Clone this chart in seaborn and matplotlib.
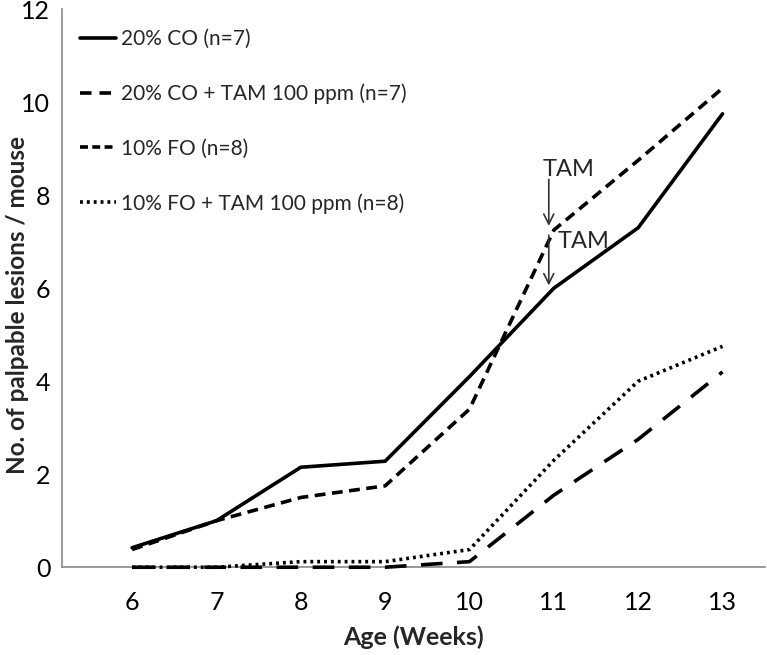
import matplotlib
matplotlib.use("Agg")
import matplotlib.pyplot as plt
from matplotlib.lines import Line2D
import seaborn as sns
import pandas as pd

weeks = [6, 7, 8, 9, 10, 11, 12, 13]
co20 = [0.42, 1.0, 2.15, 2.28, 4.1, 6.0, 7.3, 9.75]
co20_tam = [0.0, 0.0, 0.0, 0.0, 0.12, 1.55, 2.75, 4.2]
fo10 = [0.38, 1.0, 1.5, 1.75, 3.4, 7.25, 8.75, 10.3]
fo10_tam = [0.0, 0.0, 0.12, 0.12, 0.38, 2.3, 4.0, 4.75]
labels = ["20% CO (n=7)", "20% CO + TAM 100 ppm (n=7)", "10% FO (n=8)", "10% FO + TAM 100 ppm (n=8)"]
yticks = [0, 2, 4, 6, 8, 10, 12]

sns.set_theme(style="white")
plt.rcParams['font.family'] = ['Lato', 'DejaVu Sans']

fig = plt.figure(figsize=(7.67, 6.55), dpi=100)
ax = fig.add_axes([0.081, 0.134, 0.916, 0.852])

styles = [
    dict(linestyle='-'),
    dict(dashes=(6, 4)),
    dict(dashes=(3, 1.8)),
    dict(dashes=(0.8, 1.1)),
]
leg_dashes = [None, (3.2, 2.2), (2.2, 1.2), (0.8, 1.1)]
series = [co20, co20_tam, fo10, fo10_tam]
for vals, lab, st in zip(series, labels, styles):
    df = pd.DataFrame({"week": weeks, "value": vals})
    sns.lineplot(data=df, x="week", y="value", ax=ax, color="black",
                 linewidth=2.6, label=lab, **st)
for ln in ax.get_lines():
    ln.set_clip_on(False)

ax.set_xlim(5.17, 13.5)
ax.set_ylim(0, 12)
ax.set_xticks(weeks)
ax.set_yticks(yticks)
ax.tick_params(axis='both', labelsize=18, colors='black', length=5, width=1, direction='out',
               color='#888888')
ax.tick_params(axis='x', pad=12)
for s in ['top', 'right']:
    ax.spines[s].set_visible(False)
for s in ['left', 'bottom']:
    ax.spines[s].set_color('#888888')
    ax.spines[s].set_linewidth(1.2)
    ax.spines[s].set_zorder(0)

ax.set_xlabel("Age (Weeks)", fontsize=18, fontweight='bold', labelpad=8)
ax.set_ylabel("No. of palpable lesions / mouse", fontsize=17.5, fontweight='bold')
ax.yaxis.set_label_coords(-0.047, 0.47)

# TAM annotations
ax.annotate("", xy=(10.94, 7.28), xytext=(10.94, 8.4),
            arrowprops=dict(arrowstyle='->', color='#333333', lw=1.2, mutation_scale=18))
ax.text(10.87, 8.55, "TAM", fontsize=17, ha='left', va='center')
ax.annotate("", xy=(10.94, 6.0), xytext=(10.94, 7.2),
            arrowprops=dict(arrowstyle='->', color='#333333', lw=1.2, mutation_scale=18))
ax.text(11.05, 7.0, "TAM", fontsize=17, ha='left', va='center')

handles = []
for d in leg_dashes:
    if d is None:
        handles.append(Line2D([], [], color='black', lw=2.6, linestyle='-'))
    else:
        handles.append(Line2D([], [], color='black', lw=2.6, dashes=d))
leg = ax.legend(handles, labels, loc='upper left', frameon=False, fontsize=15, handlelength=1.7,
                handletextpad=0.25, labelspacing=1.65, bbox_to_anchor=(0.005, 0.99),
                borderaxespad=0.3)

fig.savefig("out.png", dpi=100)
